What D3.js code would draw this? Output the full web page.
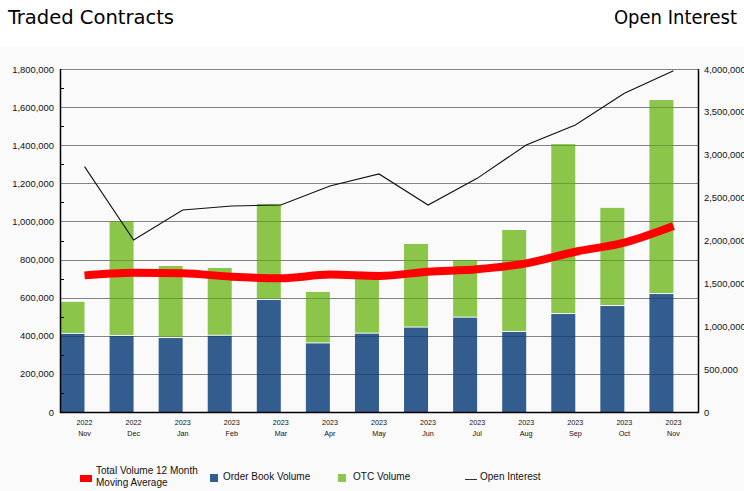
<!DOCTYPE html>
<html><head><meta charset="utf-8">
<script src="https://cdn.jsdelivr.net/npm/d3@7"></script>
<style>
body{margin:0;background:#fff;}
svg{display:block;}
</style></head>
<body>
<script>
const years = ["2022","2022","2023","2023","2023","2023","2023","2023","2023","2023","2023","2023","2023"];
const months = ["Nov","Dec","Jan","Feb","Mar","Apr","May","Jun","Jul","Aug","Sep","Oct","Nov"];
const orderBook = [410000,399000,388000,400000,588000,360000,411000,443000,495000,420000,514000,556000,619000];
const otc = [168000,601000,378000,356000,504000,270000,324000,439000,303000,535000,892000,515000,1018000];
const movingAvg = [717000,731000,728000,710000,702000,721000,714000,736000,749000,780000,841000,889000,976000];
const openInterest = [2861000,2006000,2356000,2402000,2414000,2636000,2776000,2414000,2725000,3114000,3347000,3717000,3981000];
const leftTicks = [0,200000,400000,600000,800000,1000000,1200000,1400000,1600000,1800000];
const rightTicks = [0,500000,1000000,1500000,2000000,2500000,3000000,3500000,4000000];

const W=744,H=491;
const m={l:60,r:698,t:69,b:412};
const svg=d3.select("body").append("svg").attr("width",W).attr("height",H);
svg.append("rect").attr("x",0).attr("y",0).attr("width",W).attr("height",H).attr("fill","#fff");
svg.append("rect").attr("x",0).attr("y",47).attr("width",W).attr("height",H-47).attr("fill","#fafafa");

svg.append("text").attr("x",8).attr("y",24).attr("font-family","DejaVu Sans Condensed").attr("font-size",20)
 .attr("textLength",166).attr("lengthAdjust","spacingAndGlyphs").attr("fill","#000").text("Traded Contracts");
svg.append("text").attr("x",737).attr("y",24).attr("text-anchor","end").attr("font-family","DejaVu Sans Condensed").attr("font-size",20).attr("fill","#000").text("Open Interest");

const idx=d3.range(months.length);
const x=d3.scaleBand().domain(idx).range([m.l,m.r]).paddingInner(0).paddingOuter(0);
const yL=d3.scaleLinear().domain([0,1800000]).range([m.b,m.t]);
const yR=d3.scaleLinear().domain([0,4000000]).range([m.b,m.t]);
const barW=24;

// gridlines behind
svg.append("g").selectAll("line").data(leftTicks).join("line")
 .attr("x1",m.l).attr("x2",m.r).attr("y1",d=>Math.round(yL(d))+0.5).attr("y2",d=>Math.round(yL(d))+0.5)
 .attr("stroke","#a8a8a8").attr("stroke-width",1);

// bars
svg.append("g").selectAll("rect").data(idx).join("rect")
 .attr("x",i=>x(i)+0.5).attr("width",barW)
 .attr("y",i=>yL(orderBook[i])).attr("height",i=>yL(0)-yL(orderBook[i]))
 .attr("fill","#335d8f");
svg.append("g").selectAll("rect").data(idx).join("rect")
 .attr("x",i=>x(i)+0.5).attr("width",barW)
 .attr("y",i=>yL(orderBook[i]+otc[i])).attr("height",i=>yL(orderBook[i])-yL(orderBook[i]+otc[i])-1)
 .attr("fill","#8bc54a");

// gridlines over bars
svg.append("g").selectAll("line").data(leftTicks.slice(1)).join("line")
 .attr("x1",m.l).attr("x2",m.r).attr("y1",d=>Math.round(yL(d))+0.5).attr("y2",d=>Math.round(yL(d))+0.5)
 .attr("stroke","rgba(0,0,0,0.22)").attr("stroke-width",1);

const cx=i=>x(i)+x.bandwidth()/2;

// moving average
svg.append("path").datum(idx)
 .attr("d",d3.line().x(cx).y(i=>yL(movingAvg[i])).curve(d3.curveMonotoneX))
 .attr("fill","none").attr("stroke","#ff0000").attr("stroke-width",8).attr("stroke-linejoin","round");

// open interest
svg.append("path").datum(idx)
 .attr("d",d3.line().x(cx).y(i=>yR(openInterest[i])))
 .attr("fill","none").attr("stroke","#111").attr("stroke-width",1.1);

// axes
const axL=svg.append("g").attr("transform",`translate(${m.l},0)`)
 .call(d3.axisLeft(yL).tickValues(leftTicks).tickSize(0).tickPadding(6).tickFormat(d3.format(",")));
axL.select(".domain").remove();
axL.selectAll("text").attr("font-family","Liberation Sans, Arial").attr("font-size",9.4).attr("fill","#111");
const axR=svg.append("g").attr("transform",`translate(${m.r},0)`)
 .call(d3.axisRight(yR).tickValues(rightTicks).tickSize(0).tickPadding(6).tickFormat(d3.format(",")));
axR.select(".domain").remove();
axR.selectAll("text").attr("font-family","Liberation Sans, Arial").attr("font-size",9.4).attr("fill","#111");

// minor ticks left
const minors=d3.range(100000,1800000,200000);
svg.append("g").selectAll("line").data(minors).join("line")
 .attr("x1",m.l).attr("x2",m.l+4).attr("y1",d=>Math.round(yL(d))+0.5).attr("y2",d=>Math.round(yL(d))+0.5)
 .attr("stroke","#000");

// axis lines
svg.append("line").attr("x1",m.l+0.5).attr("x2",m.l+0.5).attr("y1",m.t).attr("y2",m.b+1).attr("stroke","#000").attr("stroke-width",1.5);
svg.append("line").attr("x1",m.r+0.5).attr("x2",m.r+0.5).attr("y1",m.t).attr("y2",m.b+1).attr("stroke","#000").attr("stroke-width",1.5);
svg.append("line").attr("x1",m.l).attr("x2",m.r+1).attr("y1",m.b+0.5).attr("y2",m.b+0.5).attr("stroke","#000").attr("stroke-width",1.5);

// x labels
const xl=svg.append("g").attr("font-family","Liberation Sans, Arial").attr("font-size",7.2).attr("fill","#111");
xl.selectAll("text.yr").data(idx).join("text").attr("class","yr")
 .attr("x",cx).attr("y",425).attr("text-anchor","middle").text(i=>years[i]);
xl.selectAll("text.mo").data(idx).join("text").attr("class","mo")
 .attr("x",cx).attr("y",436).attr("text-anchor","middle").text(i=>months[i]);

// legend
const lg=svg.append("g").attr("font-family","Liberation Sans, Arial").attr("font-size",10).attr("fill","#111");
lg.append("rect").attr("x",80).attr("y",475).attr("width",12).attr("height",7).attr("fill","#ff0000");
lg.append("text").attr("x",96).attr("y",474).text("Total Volume 12 Month");
lg.append("text").attr("x",96).attr("y",486).text("Moving Average");
lg.append("rect").attr("x",210).attr("y",474).attr("width",8).attr("height",8).attr("fill","#335d8f");
lg.append("text").attr("x",223).attr("y",480).text("Order Book Volume");
lg.append("rect").attr("x",338).attr("y",474).attr("width",8).attr("height",8).attr("fill","#8bc54a");
lg.append("text").attr("x",353).attr("y",480).text("OTC Volume");
lg.append("line").attr("x1",465).attr("x2",477).attr("y1",479.5).attr("y2",479.5).attr("stroke","#333").attr("stroke-width",1);
lg.append("text").attr("x",480).attr("y",480).text("Open Interest");
</script>
</body></html>
